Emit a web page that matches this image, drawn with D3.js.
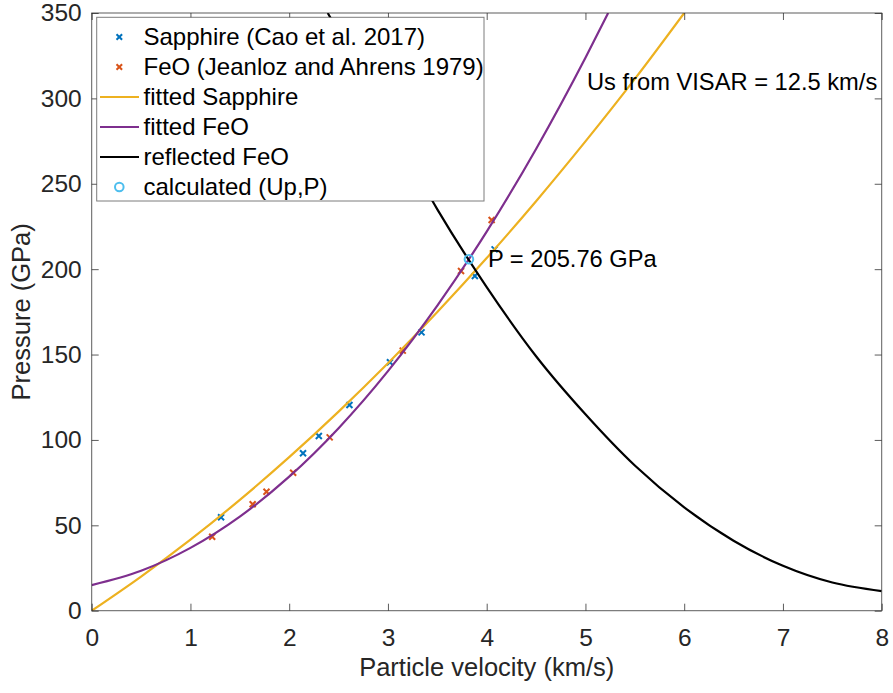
<!DOCTYPE html>
<html>
<head>
<meta charset="utf-8">
<script src="https://cdn.jsdelivr.net/npm/d3@7"></script>
<style>
  body { margin: 0; background: #fff; }
  svg { display: block; font-family: "Liberation Sans", Arial, Helvetica, sans-serif; }
</style>
</head>
<body>
<svg id="chart" width="893" height="693"></svg>
<script>
// Data
const sapphireUp = [1.31, 2.14, 2.30, 2.61, 3.02, 3.34, 3.88, 4.08];
const sapphireP  = [54.7, 92.2, 102.3, 120.5, 145.5, 163.0, 196.0, 211.6];

const feoUp = [1.22, 1.63, 1.77, 2.04, 2.41, 3.15, 3.74, 4.05];
const feoP  = [43.3, 62.3, 69.7, 80.8, 101.5, 152.3, 198.9, 228.8];

const fitSapphireUp = [0, 0.5, 1, 1.5, 2, 2.5, 3, 3.5, 4, 4.5, 5, 5.5, 6];
const fitSapphireP  = [0, 20.0, 41.6, 64.9, 89.9, 116.6, 144.9, 174.9, 206.5, 239.8, 274.8, 311.4, 350];

const fitFeoUp = [0, 0.5, 1, 1.5, 2, 2.5, 3, 3.5, 4, 4.5, 5, 5.23];
const fitFeoP  = [15, 23.4, 36.8, 55.1, 78.5, 106.9, 140.3, 178.7, 222, 270.4, 323.8, 350];

const reflUp = [2.39, 2.5, 3, 3.5, 4, 4.5, 5, 5.5, 6, 6.5, 7, 7.5, 8];
const reflP  = [350, 339, 287, 235, 189.5, 149, 115, 85, 60.5, 41, 26.3, 16.5, 11.5];

const calcUp = [3.82];
const calcP  = [205.76];

const xTicks = [0, 1, 2, 3, 4, 5, 6, 7, 8];
const yTicks = [0, 50, 100, 150, 200, 250, 300, 350];

const legendLabels = [
  "Sapphire (Cao et al. 2017)",
  "FeO (Jeanloz and Ahrens 1979)",
  "fitted Sapphire",
  "fitted FeO",
  "reflected FeO",
  "calculated (Up,P)"
];

// Colours (MATLAB defaults)
const cBlue = "#0072BD", cRed = "#D95319", cYellow = "#EDB120",
      cPurple = "#7E2F8E", cCyan = "#4DBEEE", axisCol = "#262626";

// Layout
const svg = d3.select("#chart");
const plotL = 91.7, plotR = 881.7, plotT = 13, plotB = 610.7;
const tickFont = 24.5, legendFont = 24, labelFont = 25.5, noteFont = 23.7;

const x = d3.scaleLinear().domain([0, 8]).range([plotL, plotR]);
const y = d3.scaleLinear().domain([0, 350]).range([plotB, plotT]);

const zip = (a, b) => a.map((v, i) => ({u: v, p: b[i]}));

svg.append("clipPath").attr("id", "clip")
  .append("rect")
  .attr("x", plotL).attr("y", plotT)
  .attr("width", plotR - plotL).attr("height", plotB - plotT);

const plot = svg.append("g").attr("clip-path", "url(#clip)");

// x markers
function drawCross(g, px, py, color, s) {
  g.append("path")
    .attr("d", `M${px - s},${py - s}L${px + s},${py + s}M${px - s},${py + s}L${px + s},${py - s}`)
    .attr("stroke", color)
    .attr("stroke-width", 2)
    .attr("fill", "none");
}

zip(sapphireUp, sapphireP).forEach(d => drawCross(plot, x(d.u), y(d.p), cBlue, 3));
zip(feoUp, feoP).forEach(d => drawCross(plot, x(d.u), y(d.p), cRed, 3));

const line = d3.line()
  .x(d => x(d.u))
  .y(d => y(d.p))
  .curve(d3.curveMonotoneX);

plot.append("path")
  .datum(zip(fitSapphireUp, fitSapphireP))
  .attr("d", line)
  .attr("fill", "none")
  .attr("stroke", cYellow)
  .attr("stroke-width", 2.2);

plot.append("path")
  .datum(zip(fitFeoUp, fitFeoP))
  .attr("d", line)
  .attr("fill", "none")
  .attr("stroke", cPurple)
  .attr("stroke-width", 2.2);

plot.append("path")
  .datum(zip(reflUp, reflP))
  .attr("d", line)
  .attr("fill", "none")
  .attr("stroke", "#000")
  .attr("stroke-width", 2.2);

plot.selectAll(".calc")
  .data(zip(calcUp, calcP))
  .enter().append("circle")
  .attr("class", "calc")
  .attr("cx", d => x(d.u))
  .attr("cy", d => y(d.p))
  .attr("r", 4.3)
  .attr("fill", "none")
  .attr("stroke", cCyan)
  .attr("stroke-width", 2);

// Axes (box with inward ticks)
const tickLen = 7;
const axes = svg.append("g");

axes.append("rect")
  .attr("x", plotL).attr("y", plotT)
  .attr("width", plotR - plotL).attr("height", plotB - plotT)
  .attr("fill", "none")
  .attr("stroke", axisCol)
  .attr("stroke-width", 1)
  .attr("stroke-opacity", 0.75);

const xAxis = axes.append("g")
  .attr("transform", `translate(0,${plotB})`)
  .call(d3.axisBottom(x).tickValues(xTicks).tickSizeInner(-tickLen).tickSizeOuter(0).tickPadding(18));
const xAxisTop = axes.append("g")
  .attr("transform", `translate(0,${plotT})`)
  .call(d3.axisTop(x).tickValues(xTicks).tickSizeInner(-tickLen).tickSizeOuter(0).tickFormat(""));
const yAxis = axes.append("g")
  .attr("transform", `translate(${plotL},0)`)
  .call(d3.axisLeft(y).tickValues(yTicks).tickSizeInner(-tickLen).tickSizeOuter(0).tickPadding(10));
const yAxisRight = axes.append("g")
  .attr("transform", `translate(${plotR},0)`)
  .call(d3.axisRight(y).tickValues(yTicks).tickSizeInner(-tickLen).tickSizeOuter(0).tickFormat(""));

[xAxis, xAxisTop, yAxis, yAxisRight].forEach(g => {
  g.select(".domain").remove();
  g.selectAll(".tick line").attr("stroke", axisCol).attr("stroke-opacity", 0.75);
  g.selectAll(".tick text")
    .attr("fill", axisCol)
    .style("font-size", tickFont + "px")
    .style("font-family", "'Liberation Sans', Arial, sans-serif");
});
xAxis.selectAll(".tick text").attr("dy", "0.71em");

// Axis titles
svg.append("text")
  .attr("x", (plotL + plotR) / 2)
  .attr("y", 676)
  .attr("text-anchor", "middle")
  .attr("fill", axisCol)
  .style("font-size", labelFont + "px")
  .text("Particle velocity (km/s)");

svg.append("text")
  .attr("transform", `translate(30,${(plotT + plotB) / 2}) rotate(-90)`)
  .attr("text-anchor", "middle")
  .attr("fill", axisCol)
  .style("font-size", labelFont + "px")
  .text("Pressure (GPa)");

// Annotations
svg.append("text")
  .attr("x", 587).attr("y", 90)
  .attr("fill", "#000")
  .style("font-size", noteFont + "px")
  .text("Us from VISAR = 12.5 km/s");

svg.append("text")
  .attr("x", x(calcUp[0]) + 19).attr("y", y(calcP[0]) + 8)
  .attr("fill", "#000")
  .style("font-size", noteFont + "px")
  .text("P = " + calcP[0].toFixed(2) + " GPa");

// Legend
const lg = svg.append("g");
const lgX = 96.7, lgY = 17.3, lgW = 387.3, lgH = 183.7;
lg.append("rect")
  .attr("x", lgX).attr("y", lgY)
  .attr("width", lgW).attr("height", lgH)
  .attr("fill", "#fff")
  .attr("stroke", axisCol)
  .attr("stroke-opacity", 0.6)
  .attr("stroke-width", 1);

const rowY = i => 37 + i * 30;
const sampleX1 = 100, sampleX2 = 139, markX = 119.3;

drawCross(lg, markX, rowY(0), cBlue, 2.8);
drawCross(lg, markX, rowY(1), cRed, 2.8);
[cYellow, cPurple, "#000"].forEach((c, i) => {
  lg.append("line")
    .attr("x1", sampleX1).attr("x2", sampleX2)
    .attr("y1", rowY(i + 2)).attr("y2", rowY(i + 2))
    .attr("stroke", c).attr("stroke-width", 2.2);
});
lg.append("circle")
  .attr("cx", markX).attr("cy", rowY(5))
  .attr("r", 4.3)
  .attr("fill", "none")
  .attr("stroke", cCyan)
  .attr("stroke-width", 2);

lg.selectAll(".lgtext")
  .data(legendLabels)
  .enter().append("text")
  .attr("class", "lgtext")
  .attr("x", 143.5)
  .attr("y", (d, i) => rowY(i) + 8)
  .attr("fill", "#000")
  .style("font-size", legendFont + "px")
  .text(d => d);
</script>
</body>
</html>
